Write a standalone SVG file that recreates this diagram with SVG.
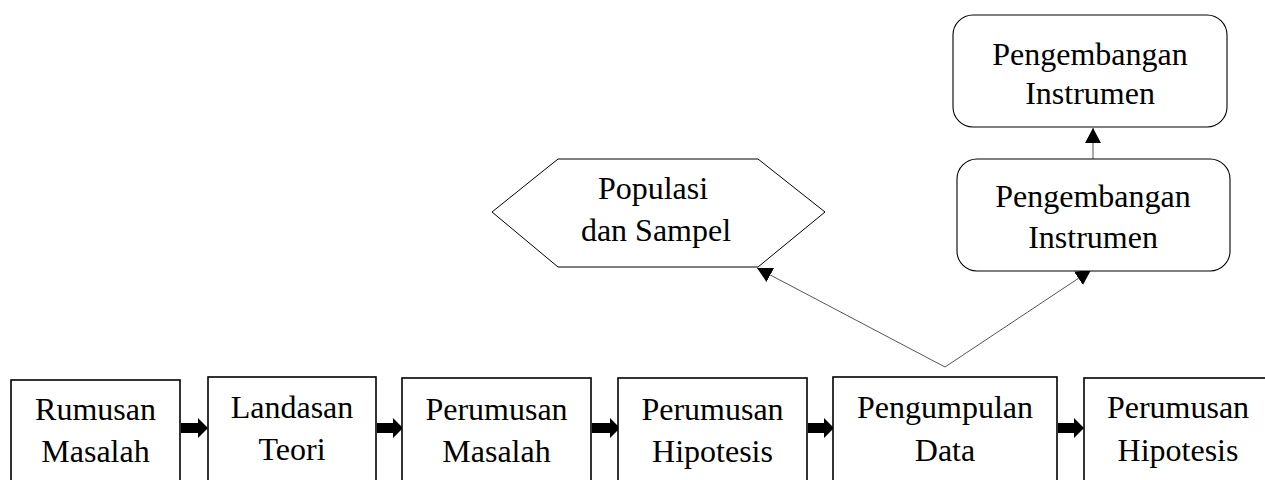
<svg xmlns="http://www.w3.org/2000/svg" width="1265" height="480" viewBox="0 0 1265 480">
<defs>
<style>
.box{fill:#fff;stroke:#000;stroke-width:1.6}
.rbox{fill:#fff;stroke:#000;stroke-width:1.1}
.hex{fill:#fff;stroke:#000;stroke-width:1}
.t{font-family:"Liberation Serif","Times New Roman",serif;font-size:32px;fill:#000;text-anchor:middle}
.con{fill:none;stroke:#555;stroke-width:1}
.blk{fill:#000}
</style>
<marker id="ah" markerUnits="userSpaceOnUse" markerWidth="16" markerHeight="16" refX="15" refY="8" orient="auto">
<path d="M0,0 L15,8 L0,16 z" fill="#000"/>
</marker>
</defs>
<rect width="1265" height="480" fill="#fff"/>
<g id="connectors">
<line class="con" x1="945" y1="367" x2="757" y2="268" marker-end="url(#ah)"/>
<line class="con" x1="945" y1="367" x2="1091" y2="270" marker-end="url(#ah)"/>
<line class="con" x1="1093" y1="159" x2="1093" y2="128" marker-end="url(#ah)"/>
<path class="blk" d="M181,423 H198 V418 L208,428 L198,438 V433 H181 z"/>
<path class="blk" d="M377,423 H393 V418 L403,428 L393,438 V433 H377 z"/>
<path class="blk" d="M592,423 H610 V418 L620,428 L610,438 V433 H592 z"/>
<path class="blk" d="M808,423 H824 V418 L834,428 L824,438 V433 H808 z"/>
<path class="blk" d="M1058,423 H1074 V418 L1084,428 L1074,438 V433 H1058 z"/>
</g>
<g id="n1"><rect class="box" x="11" y="380" width="169" height="110"/><text class="t" x="95.5" y="420">Rumusan</text><text class="t" x="95.5" y="462">Masalah</text></g>
<g id="n2"><rect class="box" x="208" y="377" width="168" height="113"/><text class="t" x="292" y="418">Landasan</text><text class="t" x="292" y="460">Teori</text></g>
<g id="n3"><rect class="box" x="402" y="378" width="189" height="112"/><text class="t" x="496.5" y="420">Perumusan</text><text class="t" x="496.5" y="462">Masalah</text></g>
<g id="n4"><rect class="box" x="618" y="378" width="189" height="112"/><text class="t" x="712.5" y="420">Perumusan</text><text class="t" x="712.5" y="462">Hipotesis</text></g>
<g id="n5"><rect class="box" x="833" y="377" width="224" height="113"/><text class="t" x="945" y="418">Pengumpulan</text><text class="t" x="945" y="461">Data</text></g>
<g id="n6"><rect class="box" x="1084" y="378" width="190" height="112"/><text class="t" x="1178" y="418">Perumusan</text><text class="t" x="1178" y="461">Hipotesis</text></g>
<g id="n7"><polygon class="hex" points="492,212 558,159 758,159 825,212 758,267 558,267"/><text class="t" x="653" y="199">Populasi</text><text class="t" x="656" y="241">dan Sampel</text></g>
<g id="n8"><rect class="rbox" x="953" y="15" width="274" height="112" rx="20" ry="20"/><text class="t" x="1090" y="65">Pengembangan</text><text class="t" x="1090" y="104">Instrumen</text></g>
<g id="n9"><rect class="rbox" x="957" y="159" width="273" height="112" rx="20" ry="20"/><text class="t" x="1093" y="207">Pengembangan</text><text class="t" x="1093" y="248">Instrumen</text></g>
</svg>
